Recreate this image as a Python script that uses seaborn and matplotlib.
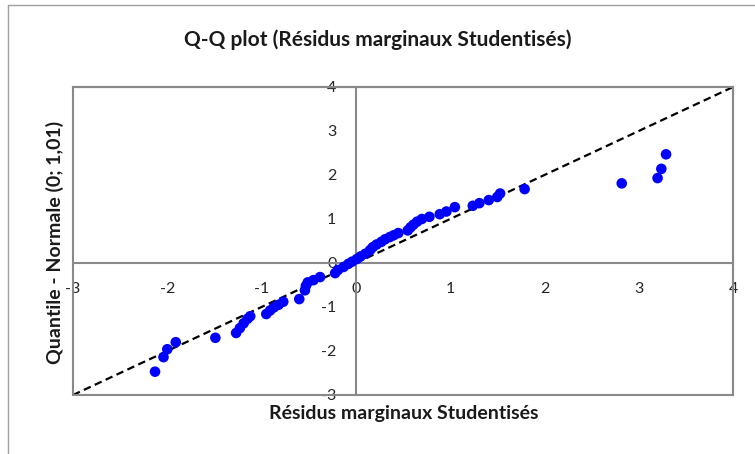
import matplotlib
matplotlib.use("Agg")
import matplotlib.pyplot as plt
from matplotlib.patches import Rectangle
from matplotlib.lines import Line2D
import seaborn as sns
import pandas as pd

# Studentised marginal residuals (sorted) and matching normal quantiles
residuals = [-2.13, -2.04, -2.00, -1.91, -1.49, -1.27, -1.23, -1.19, -1.15, -1.12,
             -0.95, -0.91, -0.87, -0.82, -0.77, -0.60, -0.54, -0.53, -0.51, -0.45,
             -0.38, -0.22, -0.19, -0.13, -0.08, -0.04, 0.01, 0.05, 0.10, 0.15,
             0.18, 0.22, 0.27, 0.31, 0.36, 0.40, 0.45, 0.55, 0.58, 0.61,
             0.65, 0.70, 0.78, 0.89, 0.96, 1.05, 1.24, 1.31, 1.41, 1.50,
             1.53, 1.79, 2.82, 3.20, 3.24, 3.29]
quantiles = [-2.47, -2.14, -1.96, -1.80, -1.70, -1.59, -1.48, -1.37, -1.27, -1.21,
             -1.16, -1.08, -1.01, -0.95, -0.88, -0.82, -0.62, -0.52, -0.44, -0.39,
             -0.32, -0.23, -0.16, -0.09, -0.02, 0.03, 0.09, 0.15, 0.21, 0.29,
             0.36, 0.42, 0.48, 0.54, 0.59, 0.63, 0.68, 0.74, 0.81, 0.87,
             0.94, 1.00, 1.05, 1.11, 1.17, 1.27, 1.30, 1.36, 1.43, 1.50,
             1.58, 1.68, 1.81, 1.93, 2.14, 2.47]
ref_line = [-3, 4]
ticks = [-3, -2, -1, 0, 1, 2, 3, 4]

sns.set_style("white")
plt.rcParams["font.family"] = ["Lato", "DejaVu Sans"]
plt.rcParams["axes.unicode_minus"] = False

grey = "#898989"
fig = plt.figure(figsize=(7.55, 4.54), dpi=100)

# outer chart frame
fig.add_artist(Line2D([8 / 755, 1.0], [1 - 5 / 454, 1 - 5 / 454],
                      transform=fig.transFigure, color="#a0a0a0", lw=1.0))
fig.add_artist(Line2D([8 / 755, 8 / 755], [0.0, 1 - 5 / 454],
                      transform=fig.transFigure, color="#a0a0a0", lw=1.0))

ax = fig.add_axes([73 / 755, 1 - 395 / 454, 660 / 755, 308 / 454])

df = pd.DataFrame({"res": residuals, "q": quantiles})
line_df = pd.DataFrame({"x": ref_line, "y": ref_line})

sns.lineplot(data=line_df, x="x", y="y", ax=ax, color="black",
             linestyle=(0, (3.4, 2.0)), linewidth=1.6, zorder=3)
sns.scatterplot(data=df, x="res", y="q", ax=ax, color="#0000ff", s=58,
                edgecolor="none", linewidth=0, zorder=4)

ax.set_xlim(-3, 4)
ax.set_ylim(-3, 4)
ax.set_xticks(ticks)
ax.set_yticks(ticks)

# axes crossing at the origin
for side in ("left", "bottom"):
    ax.spines[side].set_position(("data", 0))
    ax.spines[side].set_color(grey)
    ax.spines[side].set_linewidth(1.5)
for side in ("top", "right"):
    ax.spines[side].set_color(grey)
    ax.spines[side].set_linewidth(1.5)
ax.add_patch(Rectangle((0, 0), 1, 1, transform=ax.transAxes, fill=False,
                       edgecolor=grey, linewidth=1.5, zorder=5, clip_on=False))

ax.tick_params(axis="both", which="major", direction="inout", length=8,
               width=1.5, color=grey, labelsize=11.5, labelcolor="#262626")
ax.tick_params(axis="x", pad=10)
ax.tick_params(axis="y", pad=10)

ax.set_xlabel("")
ax.set_ylabel("")
fig.text(404 / 755, 1 - 413 / 454, "Résidus marginaux Studentisés",
         ha="center", va="center", fontsize=14, fontweight="bold",
         color="#1a1a1a")
fig.text(55 / 755, 1 - 242 / 454, "Quantile - Normale (0; 1,01)",
         ha="center", va="center", rotation=90, fontsize=14,
         fontweight="bold", color="#1a1a1a")
fig.text(378 / 755, 1 - 40 / 454, "Q-Q plot (Résidus marginaux Studentisés)",
         ha="center", va="center", fontsize=15, fontweight="bold",
         color="#1a1a1a")

fig.savefig("out.png", dpi=100)
